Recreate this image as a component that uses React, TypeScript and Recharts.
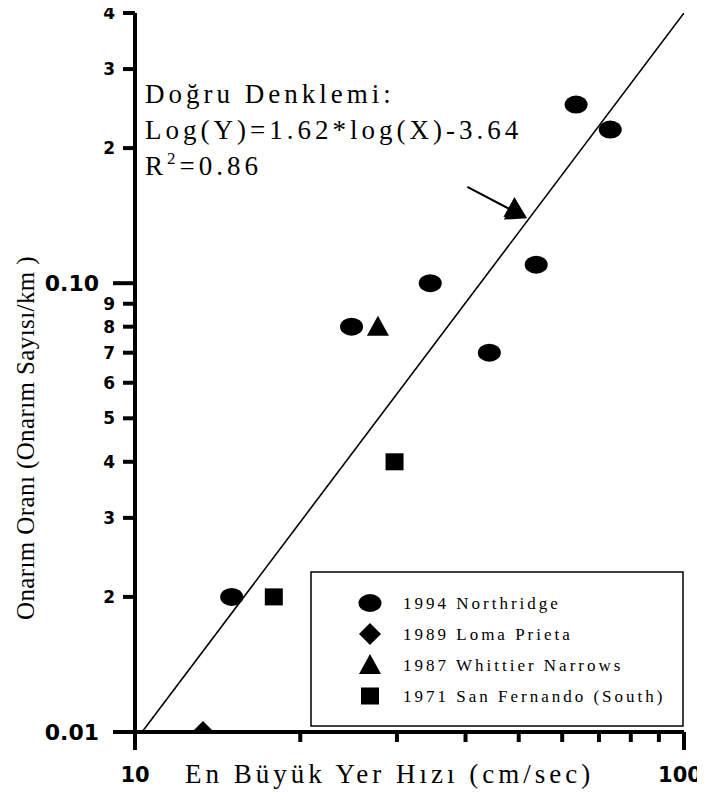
import React from "react";
import { ScatterChart, Scatter, XAxis, YAxis, ReferenceLine, Customized } from "recharts";

// axis ticks
const xTicks = [10, 20, 30, 40, 50, 60, 70, 80, 90, 100];
const xTickLabels = ["10", "", "", "", "", "", "", "", "", "100"];
const yTicks = [0.01, 0.02, 0.03, 0.04, 0.05, 0.06, 0.07, 0.08, 0.09, 0.1, 0.2, 0.3, 0.4];
const yTickLabels = ["0.01", "2", "3", "4", "5", "6", "7", "8", "9", "0.10", "2", "3", "4"];

// earthquakes (PGV cm/sec, repairs per km)
const northridgeX = [15, 24.8, 34.5, 44.2, 53.8, 63.6, 73.4];
const northridgeY = [0.02, 0.08, 0.1, 0.07, 0.11, 0.25, 0.22];
const lomaPrietaX = [13.3];
const lomaPrietaY = [0.01];
const whittierX = [27.7, 49.1];
const whittierY = [0.08, 0.147];
const sanFernandoX = [17.9, 29.7];
const sanFernandoY = [0.02, 0.04];

// regression line ends and the arrow pointing at it
const fitX = [10.3, 100];
const fitY = [0.01, 0.4];
const arrowX = [40.3, 51.8];
const arrowY = [0.164, 0.1395];

const seriesNames = [
  "1994 Northridge",
  "1989 Loma Prieta",
  "1987 Whittier Narrows",
  "1971 San Fernando (South)",
];

const zip = (xs: number[], ys: number[]) => xs.map((x, i) => ({ x, y: ys[i] }));

const SERIF = "'Liberation Serif', 'Times New Roman', serif";
const SANS = "'DejaVu Sans', sans-serif";
const AXIS_W = 4;

const Ellipse = (p: any) => <ellipse cx={p.cx} cy={p.cy} rx={11.5} ry={9} fill="#000" />;
const Diamond = (p: any) => (
  <polygon
    points={`${p.cx},${p.cy - 11} ${p.cx + 11},${p.cy} ${p.cx},${p.cy + 11} ${p.cx - 11},${p.cy}`}
    fill="#000"
  />
);
const Triangle = (p: any) => (
  <polygon
    points={`${p.cx},${p.cy - 11} ${p.cx + 11},${p.cy + 9} ${p.cx - 11},${p.cy + 9}`}
    fill="#000"
  />
);
const Square = (p: any) => <rect x={p.cx - 9} y={p.cy - 8.5} width={18} height={17} fill="#000" />;
const NoDot = () => <g />;

const shapes = [Ellipse, Diamond, Triangle, Square];

const XTick = (props: any) => {
  const { x, y, payload, index } = props;
  let i = xTicks.indexOf(payload.value);
  if (i < 0) i = index;
  const label = xTickLabels[i];
  const major = label !== "";
  const last = i === xTicks.length - 1;
  return (
    <g>
      <line x1={x} x2={x} y1={y} y2={y + (major ? 18 : 10)} stroke="#000" strokeWidth={AXIS_W} />
      {major && (
        <text
          x={x - (last ? 4 : 0)}
          y={y + 50}
          textAnchor="middle"
          fontFamily={SANS}
          fontWeight="bold"
          fontSize={21}
          fill="#000"
        >
          {label}
        </text>
      )}
    </g>
  );
};

const YTick = (props: any) => {
  const { x, y, payload, index } = props;
  let i = yTicks.indexOf(payload.value);
  if (i < 0) i = index;
  const label = yTickLabels[i];
  const major = label.includes(".");
  return (
    <g>
      <line x1={x - (major ? 22 : 12)} x2={x} y1={y} y2={y} stroke="#000" strokeWidth={AXIS_W} />
      <text
        x={x - (major ? 36 : 20)}
        y={y}
        dy={major ? 8 : 6}
        textAnchor="end"
        fontFamily={SANS}
        fontWeight="bold"
        fontSize={major ? 22 : 17}
        fill="#000"
      >
        {label}
      </text>
    </g>
  );
};

const Arrow = (p: any) => {
  const { x1, y1, x2, y2 } = p;
  const a = Math.atan2(y2 - y1, x2 - x1);
  const c = Math.cos(a);
  const s = Math.sin(a);
  const len = 20;
  const hw = 12;
  const bx = x2 - len * c;
  const by = y2 - len * s;
  return (
    <g>
      <line x1={x1} y1={y1} x2={bx} y2={by} stroke="#000" strokeWidth={2} />
      <polygon points={`${x2},${y2} ${bx - s * hw},${by + c * hw} ${bx + s * hw},${by - c * hw}`} fill="#000" />
    </g>
  );
};

const Texts = () => (
  <g fill="#000" fontFamily={SERIF}>
    <text x={145} y={103} fontSize={27} letterSpacing={4}>Doğru Denklemi:</text>
    <text x={145} y={139} fontSize={27} letterSpacing={4}>Log(Y)=1.62*log(X)-3.64</text>
    <text x={145} y={175} fontSize={27} letterSpacing={4}>
      R<tspan fontSize={17} dy={-11}>2</tspan>
      <tspan dy={11}>=0.86</tspan>
    </text>
    <text transform="rotate(-90)" x={-438} y={34} textAnchor="middle" fontSize={25} letterSpacing={0.4}>
      Onarım Oranı (Onarım Sayısı/km )
    </text>
    <text x={185} y={783} fontSize={27} letterSpacing={4}>En Büyük Yer Hızı (cm/sec)</text>
    <g transform="translate(311,572)">
      <rect x={0} y={0} width={372} height={154} fill="#fff" stroke="#000" strokeWidth={1.5} />
      {seriesNames.map((name, i) => {
        const Shape = shapes[i];
        const cy = 31 + i * 31;
        return (
          <g key={name}>
            <Shape cx={59} cy={cy} />
            <text x={92} y={cy + 6} fontSize={17} letterSpacing={3}>
              {name}
            </text>
          </g>
        );
      })}
    </g>
  </g>
);

export default function App() {
  return (
    <div style={{ margin: "-8px -8px 0 -8px", width: 705, height: 795 }}>
      <ScatterChart width={705} height={795} margin={{ top: 13, right: 21, bottom: 0, left: 0 }}>
        <XAxis
          dataKey="x"
          type="number"
          scale="log"
          domain={[10, 100]}
          ticks={xTicks}
          interval={0}
          allowDataOverflow
          height={63}
          tickSize={0}
          tickMargin={0}
          tickLine={false}
          tick={<XTick />}
          axisLine={{ stroke: "#000", strokeWidth: AXIS_W }}
        />
        <YAxis
          dataKey="y"
          type="number"
          scale="log"
          domain={[0.01, 0.4]}
          ticks={yTicks}
          interval={0}
          allowDataOverflow
          width={135}
          tickSize={0}
          tickMargin={0}
          tickLine={false}
          tick={<YTick />}
          axisLine={{ stroke: "#000", strokeWidth: AXIS_W }}
        />
        <Scatter
          data={zip(fitX, fitY)}
          line={{ stroke: "#000", strokeWidth: 1.6 }}
          shape={NoDot}
          fill="#000"
          isAnimationActive={false}
        />
        <ReferenceLine
          segment={[
            { x: arrowX[0], y: arrowY[0] },
            { x: arrowX[1], y: arrowY[1] },
          ]}
          shape={Arrow}
        />
        <Scatter name={seriesNames[0]} data={zip(northridgeX, northridgeY)} shape={Ellipse} isAnimationActive={false} />
        <Scatter name={seriesNames[1]} data={zip(lomaPrietaX, lomaPrietaY)} shape={Diamond} isAnimationActive={false} />
        <Scatter name={seriesNames[2]} data={zip(whittierX, whittierY)} shape={Triangle} isAnimationActive={false} />
        <Scatter name={seriesNames[3]} data={zip(sanFernandoX, sanFernandoY)} shape={Square} isAnimationActive={false} />
        <Customized component={Texts} />
      </ScatterChart>
    </div>
  );
}
